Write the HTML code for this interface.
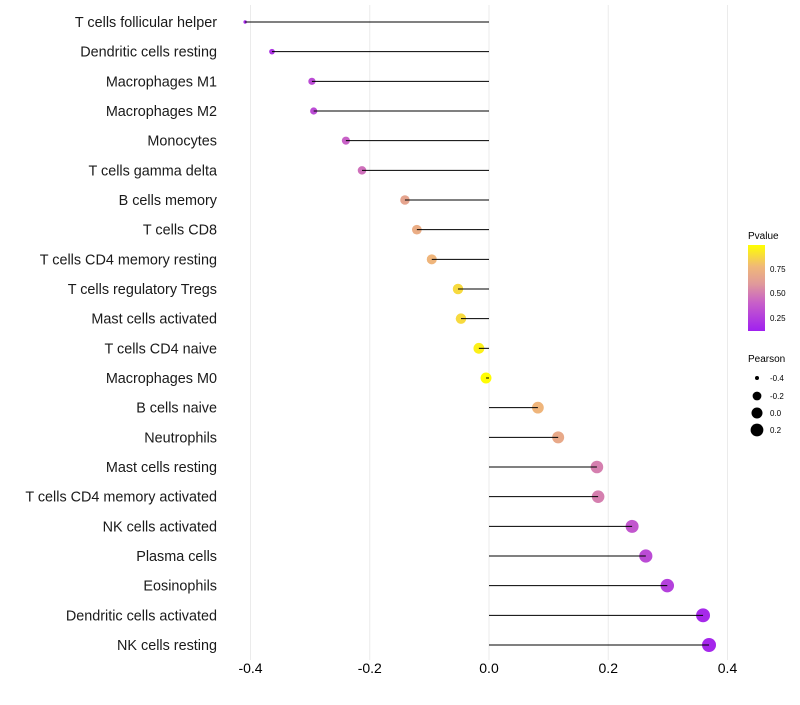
<!DOCTYPE html>
<html><head><meta charset="utf-8"><style>
body{margin:0;background:#fff;font-family:"Liberation Sans",sans-serif}
</style></head><body>
<svg id="chart" width="800" height="700" xmlns="http://www.w3.org/2000/svg">
<defs><linearGradient id="pg" x1="0" y1="1" x2="0" y2="0">
<stop offset="0" stop-color="#a020f0"/><stop offset="0.33" stop-color="#c860c8"/><stop offset="0.55" stop-color="#e09a9a"/><stop offset="0.75" stop-color="#f0b878"/><stop offset="1" stop-color="#ffff00"/>
</linearGradient></defs>
<g id="grid"></g>
<g id="marks"></g>
<g id="labels"></g>
<g id="xticks"></g>
<g>
<text x="748" y="239" font-size="10">Pvalue</text>
<rect x="748" y="245" width="17" height="86" fill="url(#pg)"/>
<text x="770" y="272" font-size="8">0.75</text>
<text x="770" y="296" font-size="8">0.50</text>
<text x="770" y="321" font-size="8">0.25</text>
</g>
<g>
<text x="748" y="362" font-size="10">Pearson</text>
<circle cx="757" cy="378" r="2"/><text x="770" y="381" font-size="8">-0.4</text>
<circle cx="757" cy="396" r="4.4"/><text x="770" y="399" font-size="8">-0.2</text>
<circle cx="757" cy="413" r="5.5"/><text x="770" y="416" font-size="8">0.0</text>
<circle cx="757" cy="430" r="6.4"/><text x="770" y="433" font-size="8">0.2</text>
</g>
</svg>
<script>
const categories=["T cells follicular helper","Dendritic cells resting","Macrophages M1","Macrophages M2","Monocytes","T cells gamma delta","B cells memory","T cells CD8","T cells CD4 memory resting","T cells regulatory  Tregs ","Mast cells activated","T cells CD4 naive","Macrophages M0","B cells naive","Neutrophils","Mast cells resting","T cells CD4 memory activated","NK cells activated","Plasma cells","Eosinophils","Dendritic cells activated","NK cells resting"];
const pearson=[-0.409,-0.364,-0.297,-0.294,-0.240,-0.213,-0.141,-0.121,-0.096,-0.052,-0.047,-0.017,-0.005,0.082,0.116,0.181,0.183,0.240,0.263,0.299,0.359,0.369];
const pvalue=[0.15,0.2,0.3,0.3,0.4,0.45,0.65,0.7,0.75,0.87,0.87,0.94,0.98,0.75,0.68,0.5,0.5,0.35,0.3,0.25,0.15,0.14];
const xTicks=[-0.4,-0.2,0.0,0.2,0.4];
const xTickLabels=["-0.4","-0.2","0.0","0.2","0.4"];
const NS="http://www.w3.org/2000/svg";
function X(v){return 489+v*596.25;}
function Y(i){return 22+i*(623/21);}
function R(v){return 1.5+5.5*Math.sqrt(Math.max(0,(v+0.41)/0.78));}
function lerp(a,b,t){return a.map((c,k)=>Math.round(c+(b[k]-c)*t));}
const stops=[[0,[160,32,240]],[0.33,[200,96,200]],[0.55,[224,154,154]],[0.75,[240,184,120]],[1,[255,255,0]]];
function col(p){const t=Math.min(1,Math.max(0,(p-0.107)/(0.985-0.107)));
 for(let k=1;k<stops.length;k++){if(t<=stops[k][0]){const a=stops[k-1],b=stops[k];return `rgb(${lerp(a[1],b[1],(t-a[0])/(b[0]-a[0]))})`;}}
 return 'rgb(255,255,0)';}
function mk(tag,attrs,parent){const e=document.createElementNS(NS,tag);for(const k in attrs)e.setAttribute(k,attrs[k]);document.getElementById(parent).appendChild(e);return e;}
xTicks.forEach((t,i)=>{
 const g=mk('line',{x1:X(t),x2:X(t),y1:5,y2:660,stroke:'#ebebeb','stroke-width':1},'grid');
 
 
 const tx=mk('text',{x:X(t),y:673,'font-size':14,'text-anchor':'middle',fill:'#000'},'xticks');
 tx.textContent=xTickLabels[i];
 
 
});
categories.forEach((c,i)=>{
 const y=Y(i);
 const lb=mk('text',{x:217,y:y+5,'font-size':14.4,'text-anchor':'end',fill:'#1a1a1a'},'labels');
 lb.textContent=c;
 
 
 const pt=mk('circle',{cx:X(pearson[i]),cy:y,r:R(pearson[i]),fill:col(pvalue[i])},'marks');
 
 
 const sg=mk('line',{x1:X(0),x2:X(pearson[i]),y1:y,y2:y,stroke:'#000','stroke-width':1},'marks');
 
 
});
</script>
</body></html>
